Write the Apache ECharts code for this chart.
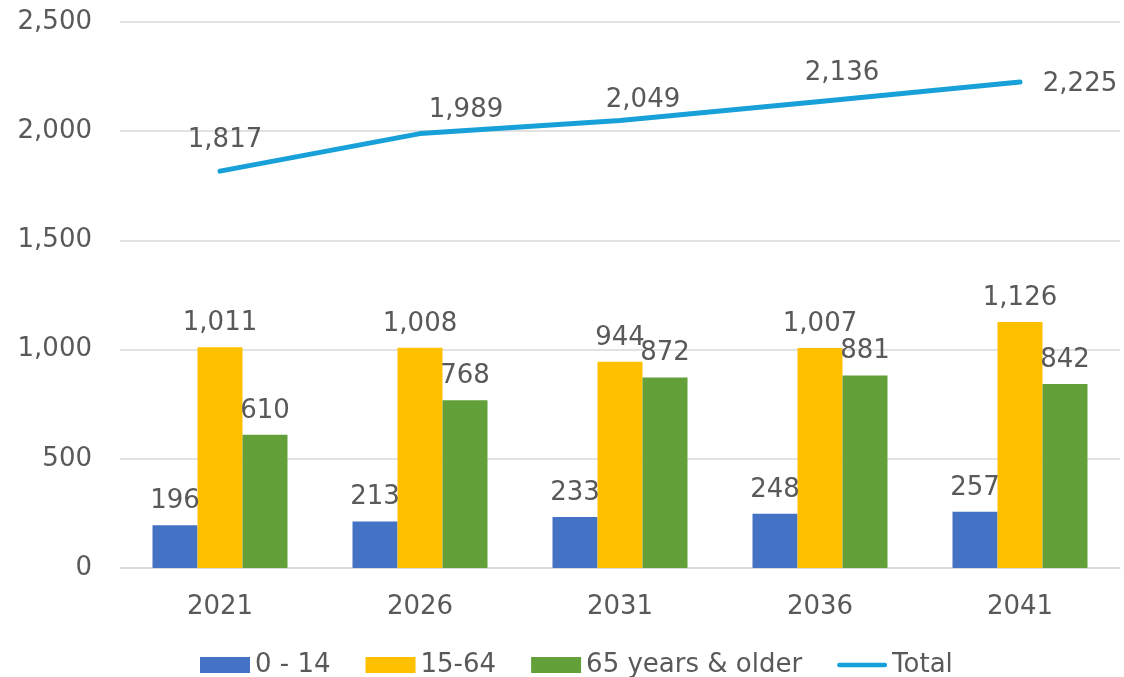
<!DOCTYPE html>
<html>
<head>
<meta charset="utf-8">
<script src="https://cdn.jsdelivr.net/npm/echarts@6/dist/echarts.min.js"></script>
<style>
html,body{margin:0;padding:0;background:#fff;}
#chart{width:1124px;height:677px;}
</style>
</head>
<body>
<div id="chart"></div>
<script>
const categories = ['2021', '2026', '2031', '2036', '2041'];
const age0to14 = [196, 213, 233, 248, 257];
const age15to64 = [1011, 1008, 944, 1007, 1126];
const age65plus = [610, 768, 872, 881, 842];
const total = [1817, 1989, 2049, 2136, 2225];
const yTicks = { min: 0, max: 2500, interval: 500 };
// label offsets for the Total line labels (style, not data)
const totalLabelOffsets = [[5, -31], [46, -23], [23, -20], [22, -28], [60, 2]];

const FONT = 'DejaVu Sans';
const TXT = '#595959';
const fmt = v => Number(v).toLocaleString('en-US');

const chart = echarts.init(document.getElementById('chart'), null, { renderer: 'canvas' });

const barLabel = {
  show: true, position: 'top', distance: 11,
  color: TXT, fontFamily: FONT, fontSize: 26,
  formatter: p => fmt(p.value)
};

chart.setOption({
  animation: false,
  backgroundColor: '#ffffff',
  textStyle: { fontFamily: FONT, color: TXT },
  grid: { left: 120, right: 4, top: 22, bottom: 109, containLabel: false },
  legend: {
    bottom: -6, left: 195,
    itemWidth: 50, itemHeight: 16, itemGap: 35,
    textStyle: { color: TXT, fontFamily: FONT, fontSize: 26 },
    data: [
      { name: '0 - 14', icon: 'rect' },
      { name: '15-64', icon: 'rect' },
      { name: '65 years & older', icon: 'rect' },
      { name: 'Total', icon: 'path://M2.5,0 H52.5 A2.5,2.5 0 0 1 52.5,5 H2.5 A2.5,2.5 0 0 1 2.5,0 Z' }
    ]
  },
  xAxis: {
    type: 'category',
    data: categories,
    axisLine: { lineStyle: { color: '#d9d9d9', width: 1.5 } },
    axisTick: { show: false },
    axisLabel: { color: TXT, fontFamily: FONT, fontSize: 26, margin: 26 }
  },
  yAxis: {
    type: 'value',
    min: yTicks.min, max: yTicks.max, interval: yTicks.interval,
    axisLine: { show: false },
    axisTick: { show: false },
    splitLine: { lineStyle: { color: '#d9d9d9', width: 1.5 } },
    axisLabel: { color: TXT, fontFamily: FONT, fontSize: 26, margin: 28, formatter: v => fmt(v) }
  },
  series: [
    {
      name: '0 - 14', type: 'bar', data: age0to14,
      itemStyle: { color: '#4472C4' },
      barGap: '0%', barCategoryGap: '32.5%',
      label: barLabel
    },
    {
      name: '15-64', type: 'bar', data: age15to64,
      itemStyle: { color: '#FFC000' },
      barGap: '0%', barCategoryGap: '32.5%',
      label: barLabel
    },
    {
      name: '65 years & older', type: 'bar', data: age65plus,
      itemStyle: { color: '#63A03A' },
      barGap: '0%', barCategoryGap: '32.5%',
      label: barLabel
    },
    {
      name: 'Total', type: 'line',
      data: total.map((v, i) => ({
        value: v,
        label: { offset: totalLabelOffsets[i] }
      })),
      symbol: 'circle', symbolSize: 1, showSymbol: true,
      itemStyle: { color: '#18A0D8' },
      lineStyle: { color: '#18A0D8', width: 5, cap: 'round', join: 'round' },
      label: {
        show: true, position: 'inside',
        color: TXT, fontFamily: FONT, fontSize: 26,
        formatter: p => fmt(p.value)
      },
      z: 5
    }
  ]
});
</script>
</body>
</html>
